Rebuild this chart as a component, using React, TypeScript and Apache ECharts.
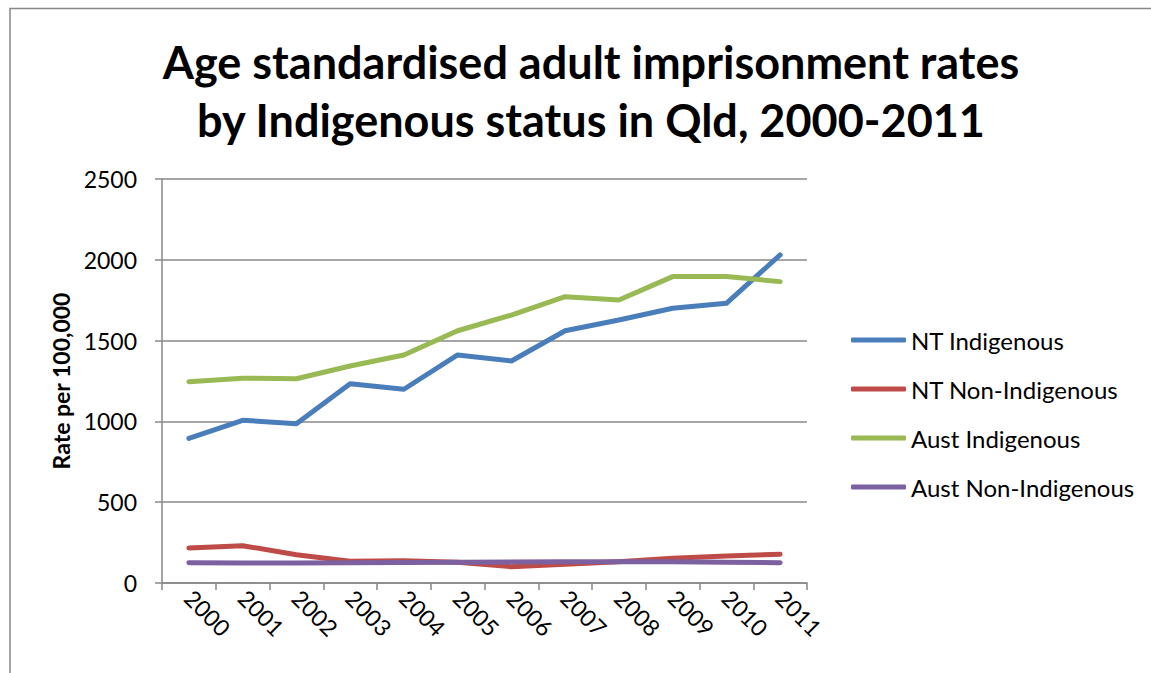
import React, { useEffect, useRef } from "react";
import * as echarts from "echarts";

const years = ["2000", "2001", "2002", "2003", "2004", "2005", "2006", "2007", "2008", "2009", "2010", "2011"];
const ntIndigenous = [895, 1007, 986, 1233, 1199, 1411, 1374, 1561, 1627, 1700, 1731, 2030];
const ntNonIndigenous = [217, 231, 175, 134, 138, 128, 101, 116, 132, 153, 167, 178];
const austIndigenous = [1246, 1267, 1264, 1343, 1411, 1561, 1658, 1772, 1751, 1896, 1896, 1865];
const austNonIndigenous = [126, 124, 124, 125, 127, 128, 130, 131, 131, 131, 129, 126];
const seriesNames = ["NT Indigenous", "NT Non-Indigenous", "Aust Indigenous", "Aust Non-Indigenous"];
const seriesColors = ["#4A7EBB", "#BE4B48", "#98B954", "#7D60A0"];

const FONT = "Lato";

export default function App() {
  const ref = useRef<HTMLDivElement>(null);
  useEffect(() => {
    if (!ref.current) return;
    const chart = echarts.init(ref.current, null, { renderer: "svg" });
    const data = [ntIndigenous, ntNonIndigenous, austIndigenous, austNonIndigenous];
    chart.setOption({
      animation: false,
      backgroundColor: "#fff",
      title: {
        text: "Age standardised adult imprisonment rates\nby Indigenous status in Qld, 2000-2011",
        left: 586,
        textAlign: "center",
        top: 28,
        textStyle: {
          fontFamily: FONT,
          fontSize: 45,
          fontWeight: "bold",
          color: "#000",
          lineHeight: 58,
        },
      },
      graphic: [
        {
          type: "rect",
          shape: { x: 10, y: 8.5, width: 1300, height: 900 },
          style: { fill: "none", stroke: "#888", lineWidth: 1.5 },
          silent: true,
        },
      ],
      legend: {
        orient: "vertical",
        left: 846,
        top: 323,
        itemWidth: 55,
        itemHeight: 5,
        itemGap: 25,
        icon: "roundRect",
        textStyle: { fontFamily: FONT, fontSize: 24, color: "#000", lineHeight: 24 },
        data: seriesNames,
      },
      grid: { left: 162, right: 344, top: 179, bottom: 90, containLabel: false },
      xAxis: {
        type: "category",
        data: years,
        boundaryGap: true,
        axisLine: { lineStyle: { color: "#888", width: 1.5 } },
        axisTick: { show: true, length: 7, inside: false, lineStyle: { color: "#888", width: 1.5 } },
        axisLabel: {
          rotate: -45,
          margin: 11,
          fontFamily: FONT,
          fontSize: 23,
          color: "#000",
          interval: 0,
        },
      },
      yAxis: {
        type: "value",
        min: 0,
        max: 2500,
        interval: 500,
        name: "Rate per 100,000",
        nameLocation: "middle",
        nameGap: 90,
        nameTextStyle: { fontFamily: FONT, fontSize: 23, fontWeight: "bold", color: "#000" },
        axisLine: { show: true, lineStyle: { color: "#888", width: 1.5 } },
        axisTick: { show: true, length: 7, lineStyle: { color: "#888", width: 1.5 } },
        axisLabel: {
          margin: 25,
          fontFamily: FONT,
          fontSize: 23,
          color: "#000",
          formatter: (v: number) => String(v),
        },
        splitLine: { show: true, lineStyle: { color: "#888", width: 1.5 } },
      },
      series: seriesNames.map((name, i) => ({
        name,
        type: "line",
        data: data[i],
        symbol: "none",
        color: seriesColors[i],
        lineStyle: { width: 5, color: seriesColors[i], cap: "round", join: "round" },
      })),
    });
    return () => chart.dispose();
  }, []);
  return (
    <div
      ref={ref}
      style={{ position: "fixed", left: 0, top: 0, width: 1151, height: 673 }}
    />
  );
}
